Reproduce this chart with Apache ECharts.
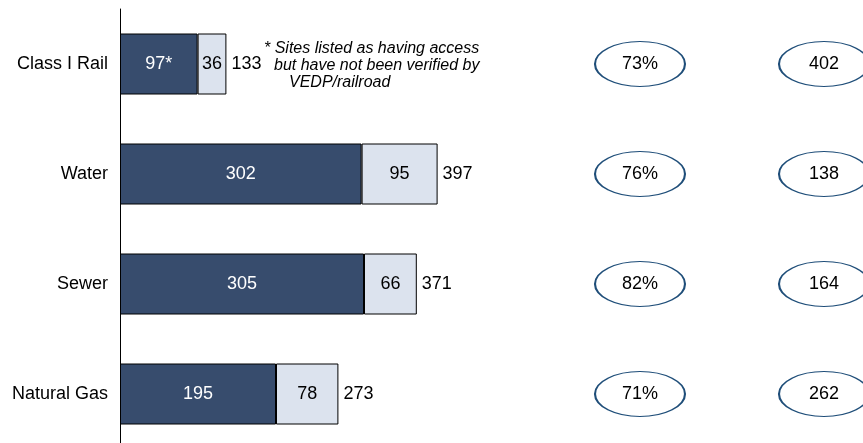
<!DOCTYPE html>
<html>
<head>
<meta charset="utf-8">
<script src="https://cdn.jsdelivr.net/npm/echarts@6/dist/echarts.min.js"></script>
<style>
  html, body { margin: 0; padding: 0; background: #fff; }
  #chart { width: 863px; height: 443px; }
</style>
</head>
<body>
<div id="chart"></div>
<script>
// 数据
const categories = ['Class I Rail', 'Water', 'Sewer', 'Natural Gas']
const verifiedSites = [97, 302, 305, 195]
const otherSites = [36, 95, 66, 78]
const totalSites = [133, 397, 371, 273]
const pctValues = [73, 76, 82, 71]
const countValues = [402, 138, 164, 262]
const footnoteIndex = 0

const FONT = '"Liberation Sans", Arial, sans-serif'
const DARK = '#374c6d'
const LIGHT = '#dce3ee'
const RING = '#1f4e79'

const chart = echarts.init(document.getElementById('chart'))

const option = {
  animation: false,
  textStyle: { fontFamily: FONT },
  grid: [
    { left: 120, top: 9, width: 400, height: 440, outerBoundsMode: 'none' },
    { left: 548, top: 9, width: 368, height: 440, outerBoundsMode: 'none' }
  ],
  xAxis: [
    { gridIndex: 0, type: 'value', min: 0, max: 500, show: false },
    { gridIndex: 1, type: 'category', data: ['pct', 'count'], show: false }
  ],
  yAxis: [
    {
      gridIndex: 0,
      type: 'category',
      inverse: true,
      data: categories,
      axisLine: { lineStyle: { color: '#000', width: 1 } },
      axisTick: { show: false },
      axisLabel: { color: '#000', fontSize: 18, margin: 12, fontFamily: FONT }
    },
    { gridIndex: 1, type: 'category', inverse: true, data: categories, show: false }
  ],
  series: [
    {
      type: 'bar',
      stack: 'sites',
      barWidth: 61,
      data: verifiedSites,
      itemStyle: { color: DARK, borderColor: '#000', borderWidth: 1 },
      label: {
        show: true,
        position: 'inside',
        color: '#fff',
        fontSize: 18,
        fontFamily: FONT,
        formatter: p => p.dataIndex === footnoteIndex ? p.value + '*' : String(p.value)
      }
    },
    {
      type: 'bar',
      stack: 'sites',
      barWidth: 61,
      data: otherSites,
      itemStyle: { color: LIGHT, borderColor: '#000', borderWidth: 1 },
      label: { show: true, position: 'inside', color: '#000', fontSize: 18, fontFamily: FONT }
    },
    {
      // 总数标签
      type: 'bar',
      stack: 'sites',
      barWidth: 61,
      data: totalSites.map(() => 0),
      itemStyle: { color: 'transparent', borderWidth: 0 },
      label: {
        show: true,
        position: 'right',
        distance: 5,
        color: '#000',
        fontSize: 18,
        fontFamily: FONT,
        formatter: p => String(totalSites[p.dataIndex])
      }
    },
    {
      type: 'scatter',
      xAxisIndex: 1,
      yAxisIndex: 1,
      symbol: 'circle',
      symbolSize: [90, 45],
      data: pctValues.map((v, i) => [0, i, v]),
      itemStyle: { color: '#fff', borderColor: RING, borderWidth: 1.5, opacity: 1 },
      label: {
        show: true,
        position: 'inside',
        color: '#000',
        fontSize: 18,
        fontFamily: FONT,
        formatter: p => p.value[2] + '%'
      }
    },
    {
      type: 'scatter',
      xAxisIndex: 1,
      yAxisIndex: 1,
      symbol: 'circle',
      symbolSize: [90, 45],
      clip: false,
      data: countValues.map((v, i) => [1, i, v]),
      itemStyle: { color: '#fff', borderColor: RING, borderWidth: 1.5, opacity: 1 },
      label: {
        show: true,
        position: 'inside',
        color: '#000',
        fontSize: 18,
        fontFamily: FONT,
        formatter: p => String(p.value[2])
      }
    }
  ],
  graphic: [
    { type: 'text', left: 264, top: 41, style: { text: '* Sites listed as having access', fontSize: 16, fontStyle: 'italic', fontFamily: FONT, fill: '#000' } },
    { type: 'text', left: 274, top: 58, style: { text: 'but have not been verified by', fontSize: 16, fontStyle: 'italic', fontFamily: FONT, fill: '#000' } },
    { type: 'text', left: 289, top: 75, style: { text: 'VEDP/railroad', fontSize: 16, fontStyle: 'italic', fontFamily: FONT, fill: '#000' } }
  ]
}

chart.setOption(option)
</script>
</body>
</html>
